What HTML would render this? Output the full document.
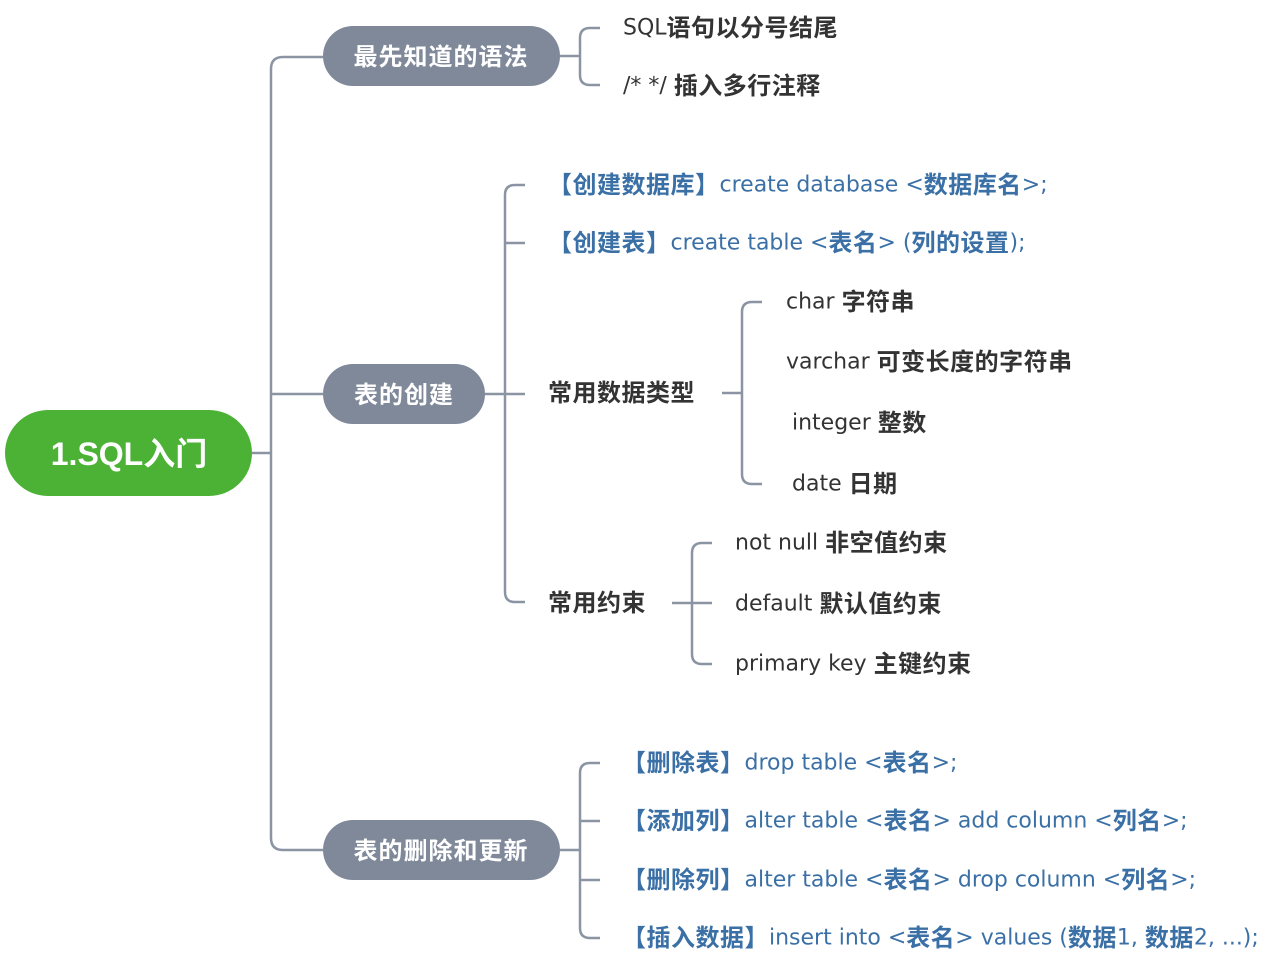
<!DOCTYPE html>
<html><head><meta charset="utf-8"><style>
html,body{margin:0;padding:0;background:#fff;}
svg{display:block;}
text{font-family:"DejaVu Sans","Noto Sans CJK SC",sans-serif;dominant-baseline:central;}
.d{fill:#333;font-size:22px;}
.b{fill:#3b70a6;font-size:22px;}
.k{font-weight:bold;font-size:24px;letter-spacing:0.5px;}
.w{fill:#fff;font-weight:bold;font-size:24px;letter-spacing:1px;}
</style></head><body>
<svg width="1280" height="962" viewBox="0 0 1280 962" xmlns="http://www.w3.org/2000/svg">
<g fill="none" stroke="#8a94a3" stroke-width="2.5">
<path d="M252 453 H271"/>
<path d="M323 57 H283 Q271 57 271 69 V838 Q271 850 283 850 H323"/>
<path d="M271 394 Q271 394 283 394 H323" />
<path d="M560 56 H580"/>
<path d="M600 28 H590 Q580 28 580 38 V75 Q580 85 590 85 H600"/>
<path d="M485 394 H525"/>
<path d="M525 185 H515 Q505 185 505 195 V592 Q505 602 515 602 H525"/>
<path d="M505 243 Q505 243 515 243 H525"/>
<path d="M722 393 H742"/>
<path d="M762 302 H752 Q742 302 742 312 V474 Q742 484 752 484 H762"/>
<path d="M672 603 H712"/>
<path d="M712 543 H702 Q692 543 692 553 V654 Q692 664 702 664 H712"/>
<path d="M560 850 H580"/>
<path d="M600 763 H590 Q580 763 580 773 V928 Q580 938 590 938 H600"/>
<path d="M580 821 H600 M580 880 H600"/>
</g>
<rect x="5" y="410" width="247" height="86" rx="43" fill="#4cb236"/>
<text x="129" y="454" text-anchor="middle" fill="#fff" font-size="32" font-weight="bold" style="font-family:'Liberation Sans','Noto Sans CJK SC',sans-serif">1.SQL入门</text>
<rect x="323" y="26" width="237" height="60" rx="30" fill="#7f899a"/>
<text x="441" y="57" text-anchor="middle" class="w">最先知道的语法</text>
<rect x="323" y="364" width="162" height="60" rx="30" fill="#7f899a"/>
<text x="404" y="395" text-anchor="middle" class="w">表的创建</text>
<rect x="323" y="820" width="237" height="60" rx="30" fill="#7f899a"/>
<text x="441" y="851" text-anchor="middle" class="w">表的删除和更新</text>

<text x="623" y="28" class="d">SQL<tspan class="k">语句以分号结尾</tspan></text>
<text x="623" y="86" class="d">/*  */  <tspan class="k">插入多行注释</tspan></text>

<text x="548" y="185" class="b"><tspan class="k">【创建数据库】</tspan>create database &lt;<tspan class="k">数据库名</tspan>&gt;;</text>
<text x="548" y="243" class="b"><tspan class="k">【创建表】</tspan>create table &lt;<tspan class="k">表名</tspan>&gt; (<tspan class="k">列的设置</tspan>);</text>
<text x="548" y="393" class="d k">常用数据类型</text>
<text x="548" y="603" class="d k">常用约束</text>

<text x="786" y="302" class="d">char <tspan class="k">字符串</tspan></text>
<text x="786" y="362" class="d">varchar <tspan class="k">可变长度的字符串</tspan></text>
<text x="792" y="423" class="d">integer <tspan class="k">整数</tspan></text>
<text x="792" y="484" class="d">date <tspan class="k">日期</tspan></text>

<text x="735" y="543" class="d">not null <tspan class="k">非空值约束</tspan></text>
<text x="735" y="604" class="d">default <tspan class="k">默认值约束</tspan></text>
<text x="735" y="664" class="d">primary key <tspan class="k">主键约束</tspan></text>

<text x="622" y="763" class="b"><tspan class="k">【删除表】</tspan>drop table &lt;<tspan class="k">表名</tspan>&gt;;</text>
<text x="622" y="821" class="b"><tspan class="k">【添加列】</tspan>alter table &lt;<tspan class="k">表名</tspan>&gt; add column &lt;<tspan class="k">列名</tspan>&gt;;</text>
<text x="622" y="880" class="b"><tspan class="k">【删除列】</tspan>alter table &lt;<tspan class="k">表名</tspan>&gt; drop column &lt;<tspan class="k">列名</tspan>&gt;;</text>
<text x="622" y="938" class="b"><tspan class="k">【插入数据】</tspan>insert into &lt;<tspan class="k">表名</tspan>&gt; values (<tspan class="k">数据</tspan>1, <tspan class="k">数据</tspan>2, ...);</text>
</svg>
</body></html>
